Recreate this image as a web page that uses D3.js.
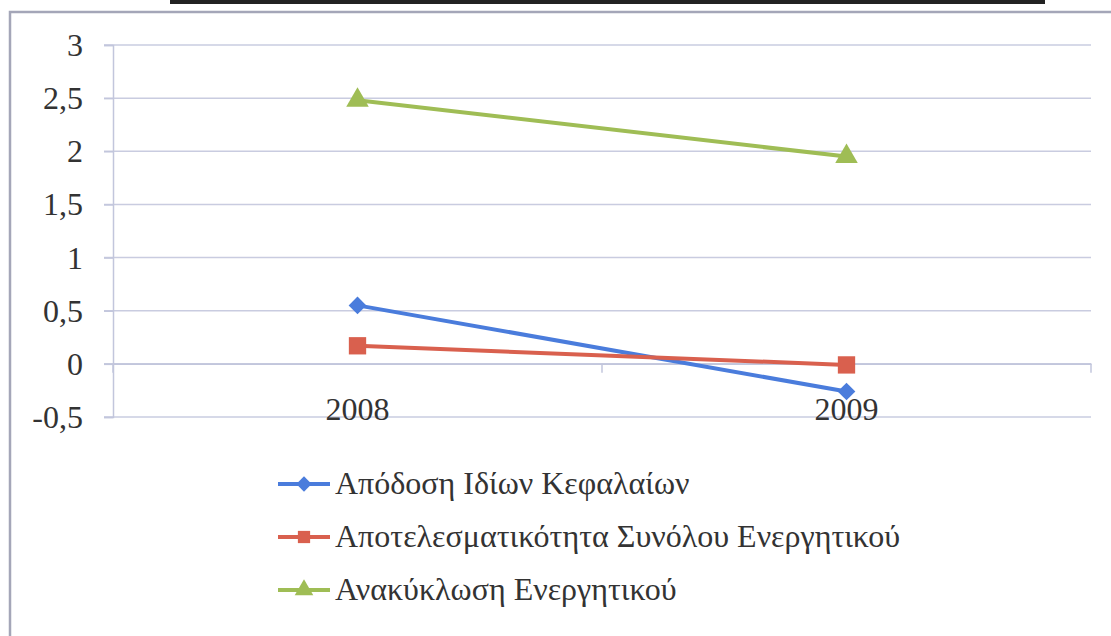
<!DOCTYPE html>
<html><head><meta charset="utf-8">
<script src="https://cdn.jsdelivr.net/npm/d3@7"></script>
<style>html,body{margin:0;padding:0;background:#fff;overflow:hidden}</style>
</head><body>
<svg id="c" width="1111" height="636"></svg>
<script>
const categories = ["2008", "2009"];
const seriesNames = ["Απόδοση Ιδίων Κεφαλαίων", "Αποτελεσματικότητα Συνόλου Ενεργητικού", "Ανακύκλωση Ενεργητικού"];
const roe = [0.55, -0.26];
const assetEff = [0.17, -0.01];
const assetTurn = [2.48, 1.95];
const yTicks = [-0.5, 0, 0.5, 1, 1.5, 2, 2.5, 3];
const yTickLabels = ["-0,5", "0", "0,5", "1", "1,5", "2", "2,5", "3"];
const colors = ["#4a7cdc", "#d9604e", "#9fbd55"];
const symbols = [d3.symbolDiamond2, d3.symbolSquare, d3.symbolTriangle];

const series = [roe, assetEff, assetTurn];
const svg = d3.select("#c");
const FS = 32, FF = '"Liberation Serif"';

// title remnant and frame
svg.append("rect").attr("x", 170).attr("y", 0).attr("width", 875).attr("height", 4).attr("fill", "#222");
svg.append("path").attr("d", "M10,636 V12 H1111").attr("fill", "none").attr("stroke", "#a4a6b8").attr("stroke-width", 2.5);

const left = 113, right = 1091;
const y = d3.scaleLinear().domain([-0.5, 3]).range([417, 45]);
const x = d3.scaleBand().domain(categories).range([left, right]);
const cx = c => x(c) + x.bandwidth() / 2;

// gridlines
svg.append("g").selectAll("line").data(yTicks).join("line")
  .attr("x1", left - 9).attr("x2", right)
  .attr("y1", d => y(d)).attr("y2", d => y(d))
  .attr("stroke", "#c9cce0").attr("stroke-width", 1.5);

// y axis
const ya = svg.append("g").attr("transform", `translate(${left},0)`)
  .call(d3.axisLeft(y).tickValues(yTicks).tickSize(9).tickFormat((d, i) => yTickLabels[i]));
ya.attr("font-family", null);
ya.select(".domain").attr("stroke", "#c2c6dc").attr("stroke-width", 1.5);
ya.selectAll(".tick line").attr("stroke", "#c2c6dc").attr("stroke-width", 1.5);
ya.selectAll("text").style("font-family", FF).attr("font-size", FS).attr("fill", "#333")
  .attr("x", -30).attr("dy", "0.33em");

// x axis at 0
const xa = svg.append("g").attr("transform", `translate(0,${y(0)})`)
  .call(d3.axisBottom(x).tickSize(0));
xa.attr("font-family", null);
xa.select(".domain").attr("stroke", "#c2c6dc").attr("stroke-width", 1.5);
xa.selectAll(".tick text").style("font-family", FF).attr("font-size", FS).attr("fill", "#333").attr("dy", 0).attr("y", 56);
// category boundary ticks
const bounds = [left, left + x.bandwidth(), right];
svg.append("g").selectAll("line").data(bounds).join("line")
  .attr("x1", d => d).attr("x2", d => d)
  .attr("y1", y(0)).attr("y2", y(0) + 9)
  .attr("stroke", "#c2c6dc").attr("stroke-width", 1.5);

// lines
const line = d3.line().x((d, i) => cx(categories[i])).y(d => y(d));
const sizes = [200, 300, 220];
series.forEach((s, k) => {
  svg.append("path").datum(s).attr("d", line).attr("fill", "none")
    .attr("stroke", colors[k]).attr("stroke-width", 4);
  svg.append("g").selectAll("path").data(s).join("path")
    .attr("transform", (d, i) => `translate(${cx(categories[i])},${y(d)})`)
    .attr("d", d3.symbol().type(symbols[k]).size(sizes[k]))
    .attr("fill", colors[k]);
});

// legend
const lg = svg.append("g");
seriesNames.forEach((n, k) => {
  const yy = 484 + k * 53;
  lg.append("line").attr("x1", 278).attr("x2", 330).attr("y1", yy).attr("y2", yy)
    .attr("stroke", colors[k]).attr("stroke-width", 4);
  lg.append("path").attr("transform", `translate(304,${yy})`)
    .attr("d", d3.symbol().type(symbols[k]).size(150)).attr("fill", colors[k]);
  lg.append("text").attr("x", 335).attr("y", yy + 10).text(n)
    .style("font-family", FF).attr("font-size", FS).attr("fill", "#333");
});
</script>
</body></html>
